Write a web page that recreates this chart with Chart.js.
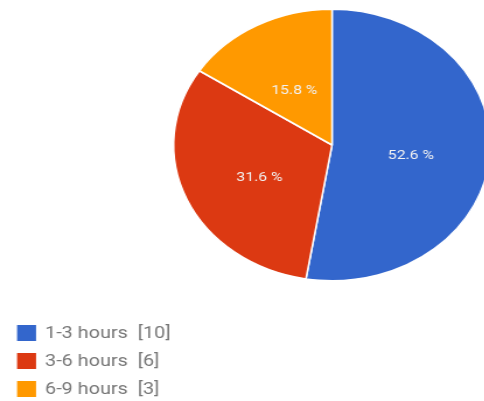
<!DOCTYPE html>
<html>
<head>
<meta charset="utf-8">
<script src="https://cdn.jsdelivr.net/npm/chart.js@4.4.1/dist/chart.umd.min.js"></script>
<style>
  html, body { margin: 0; padding: 0; background: #fff; overflow: hidden; width: 484px; height: 401px; }
  /* the reference is stretched horizontally, so draw in a narrower box and widen it */
  #wrap { width: 440px; height: 401px; transform: scaleX(1.167); transform-origin: 0 0; }
</style>
</head>
<body>
<div id="wrap"><canvas id="c"></canvas></div>
<script>
const labels = ["1-3 hours", "3-6 hours", "6-9 hours"];
const counts = [10, 6, 3];
const colors = ["#3366cc", "#dc3912", "#ff9900"];

const total = counts.reduce((a, b) => a + b, 0);

// percent labels inside each slice, a little below the slice's centre point
const sliceLabels = {
  id: "sliceLabels",
  afterDatasetsDraw(chart) {
    const { ctx } = chart;
    const meta = chart.getDatasetMeta(0);
    ctx.save();
    ctx.font = "13.5px Roboto, sans-serif";
    ctx.fillStyle = "#f2f2f2";
    ctx.textAlign = "center";
    ctx.textBaseline = "middle";
    meta.data.forEach((arc, i) => {
      const mid = (arc.startAngle + arc.endAngle) / 2;
      const r = arc.outerRadius * 0.5;
      const pct = (counts[i] / total * 100).toFixed(1) + " %";
      ctx.fillText(pct, arc.x + Math.cos(mid) * r, arc.y + Math.sin(mid) * r + 5);
    });
    ctx.restore();
  },
};

// vertical legend in the bottom-left corner
const sideLegend = {
  id: "sideLegend",
  afterDraw(chart) {
    const { ctx } = chart;
    ctx.save();
    ctx.font = "17px Roboto, sans-serif";
    ctx.textBaseline = "middle";
    labels.forEach((name, i) => {
      const y = 333 + i * 28;
      ctx.fillStyle = colors[i];
      ctx.fillRect(14.6, y - 8, 16.3, 16);
      ctx.fillStyle = "#777777";
      ctx.fillText(`${name}  [${counts[i]}]`, 38.6, y + 1);
    });
    ctx.restore();
  },
};

new Chart(document.getElementById("c"), {
  type: "pie",
  data: {
    labels,
    datasets: [{
      data: counts,
      backgroundColor: colors,
      borderColor: "#ffffff",
      borderWidth: 1.5,
    }],
  },
  options: {
    responsive: true,
    maintainAspectRatio: false,
    animation: false,
    layout: { padding: { left: 148, right: 19, top: 8, bottom: 119 } },
    plugins: {
      legend: { display: false },
      tooltip: { enabled: false },
    },
  },
  plugins: [sliceLabels, sideLegend],
});
</script>
</body>
</html>
